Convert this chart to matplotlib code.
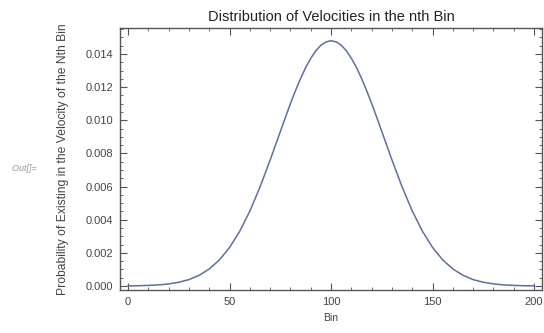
import numpy as np
import matplotlib.pyplot as plt
from matplotlib.ticker import MultipleLocator

plt.rcParams['font.family'] = ['Liberation Sans', 'DejaVu Sans']

# values (bin -> probability)
bins = [0, 5, 10, 15, 20, 25, 30, 35, 40, 45, 50, 55, 60, 65, 70, 75, 77.5, 80, 82.5, 85,
        87.5, 90, 92.5, 95, 97.5, 100, 102.5, 105, 107.5, 110, 112.5, 115, 117.5, 120,
        122.5, 125, 130, 135, 140, 145, 150, 155, 160, 165, 170, 175, 180, 185, 190, 195, 200]
prob = [0.00001, 0.00002, 0.00004, 0.00007, 0.00013, 0.00023, 0.00039, 0.00065, 0.00103,
        0.00158, 0.00233, 0.00331, 0.00453, 0.00598, 0.00761, 0.00932, 0.01018, 0.01101,
        0.01180, 0.01253, 0.01319, 0.01374, 0.01420, 0.01453, 0.01473, 0.01480, 0.01473,
        0.01453, 0.01420, 0.01374, 0.01319, 0.01253, 0.01180, 0.01101, 0.01018, 0.00932,
        0.00761, 0.00598, 0.00453, 0.00331, 0.00233, 0.00158, 0.00103, 0.00065, 0.00039,
        0.00023, 0.00013, 0.00007, 0.00004, 0.00002, 0.00001]

fig = plt.figure(figsize=(5.44, 3.33), dpi=100)
ax = fig.add_axes([0.2206, 0.129, 0.776, 0.787])

ax.plot(bins, prob, color='#5e6fa0', lw=1.1)

ax.set_xlim(-4, 204)
ax.set_ylim(-0.00024, 0.01557)
ax.xaxis.set_major_locator(MultipleLocator(50))
ax.xaxis.set_minor_locator(MultipleLocator(10))
ax.yaxis.set_major_locator(MultipleLocator(0.002))
ax.yaxis.set_minor_locator(MultipleLocator(0.0005))
ax.yaxis.set_major_formatter(plt.FuncFormatter(lambda v, p: f"{v:.3f}"))

frame_col = '#555555'
for s in ax.spines.values():
    s.set_color(frame_col)
    s.set_linewidth(1.0)
ax.tick_params(which='both', direction='in', top=True, right=True, color=frame_col,
               labelsize=8, labelcolor='#444444')
ax.tick_params(which='major', length=5, width=0.8, pad=5)
ax.tick_params(which='minor', length=2.5, width=0.6)

ax.set_title("Distribution of Velocities in the nth Bin", fontsize=10.5, color='#222222', pad=5)
ax.set_xlabel("Bin", fontsize=7.5, color='#444444', labelpad=4)
ax.set_ylabel("Probability of Existing in the Velocity of the Nth Bin", fontsize=8.7,
              color='#444444', labelpad=12)

fig.text(0.022, 0.485, "Out[]=  ", fontsize=6.5, color='#999999', style='italic')

fig.savefig("out.png", dpi=100)
